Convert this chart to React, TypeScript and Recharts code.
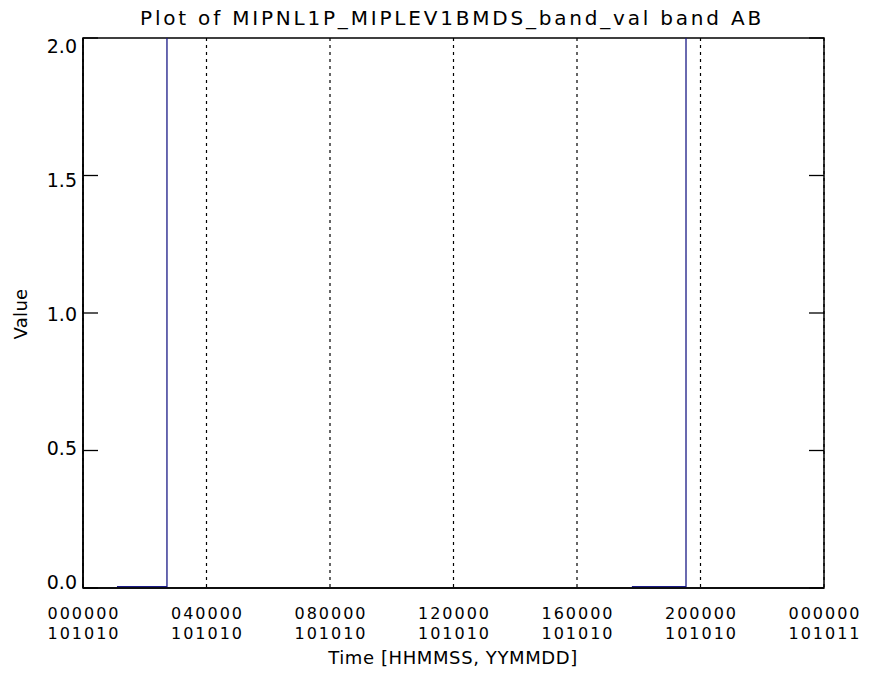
import { LineChart, Line, XAxis, YAxis, CartesianGrid, ReferenceArea } from "recharts";

// seconds since 00:00 on 101010, band value (null = gap)
const times = [3960, 9790, 9800, 9810, 64000, 70310, 70320];
const values: (number | null)[] = [0.005, 0.005, 100, null, 0.005, 0.005, 100];

const xTicks = [0, 14400, 28800, 43200, 57600, 72000, 86400];
const timeLabels = ["000000", "040000", "080000", "120000", "160000", "200000", "000000"];
const dateLabels = ["101010", "101010", "101010", "101010", "101010", "101010", "101011"];

const yTicks = [0, 0.5, 1, 1.5, 2];
const yLabels = ["0.0", "0.5", "1.0", "1.5", "2.0"];

const data = times.map((t, i) => ({ t, v: values[i] }));

const FONT = "'DejaVu Sans', sans-serif";
const PLOT_LEFT = 83;
const PLOT_RIGHT = 824;

function YTick({ y, index, payload }: any) {
    // labels drift down towards the top of the axis, like the original plot
    const shift = 1 + 7 * payload.value;
    return (
        <g>
            <line x1={PLOT_LEFT} x2={PLOT_LEFT + 15} y1={y} y2={y} stroke="#000" strokeWidth={1.3} />
            <line x1={PLOT_RIGHT - 15} x2={PLOT_RIGHT} y1={y} y2={y} stroke="#000" strokeWidth={1.3} />
            <text x={77} y={y + shift} textAnchor="end" fontSize={19} fontFamily={FONT} fill="#000">
                {yLabels[index]}
            </text>
        </g>
    );
}

function XTick({ x, index }: any) {
    return (
        <g>
            <text x={x + 1} y={619} textAnchor="middle" fontSize={16} fontFamily={FONT} fill="#000" letterSpacing={2}>
                {timeLabels[index]}
            </text>
            <text x={x + 1} y={639} textAnchor="middle" fontSize={16} fontFamily={FONT} fill="#000" letterSpacing={2}>
                {dateLabels[index]}
            </text>
        </g>
    );
}

export default function App() {
    return (
        <div style={{ position: "absolute", left: 0, top: 0, width: 873, height: 685, background: "#fff" }}>
            <LineChart
                width={873}
                height={685}
                data={data}
                margin={{ top: 38, right: 49, bottom: 37, left: 33 }}
            >
                <CartesianGrid horizontal={false} stroke="#000" strokeDasharray="3 4" strokeWidth={1.2} />
                <XAxis
                    dataKey="t"
                    type="number"
                    domain={[0, 86400]}
                    ticks={xTicks}
                    height={60}
                    tickLine={false}
                    axisLine={{ stroke: "#000", strokeWidth: 1.5 }}
                    tick={<XTick />}
                    interval={0}
                />
                <YAxis
                    type="number"
                    domain={[0, 2]}
                    ticks={yTicks}
                    allowDataOverflow
                    width={50}
                    tickLine={false}
                    axisLine={{ stroke: "#000", strokeWidth: 1.5 }}
                    tick={<YTick />}
                    interval={0}
                />
                <ReferenceArea x1={0} x2={86400} y1={0} y2={2} fill="none" stroke="#000" strokeWidth={1.5} fillOpacity={0} />
                <Line
                    dataKey="v"
                    type="linear"
                    stroke="#1a1a86"
                    strokeWidth={1.3}
                    dot={false}
                    connectNulls={false}
                    isAnimationActive={false}
                />
                <text x={452} y={25} textAnchor="middle" fontSize={20} fontFamily={FONT} fill="#000" letterSpacing={2.8}>
                    Plot of MIPNL1P_MIPLEV1BMDS_band_val band AB
                </text>
                <text x={453} y={664} textAnchor="middle" fontSize={18} fontFamily={FONT} fill="#000" letterSpacing={0.6}>
                    Time [HHMMSS, YYMMDD]
                </text>
                <text x={27} y={314} textAnchor="middle" fontSize={18} fontFamily={FONT} fill="#000" letterSpacing={0.3} transform="rotate(-90 27 314)">
                    Value
                </text>
            </LineChart>
        </div>
    );
}
